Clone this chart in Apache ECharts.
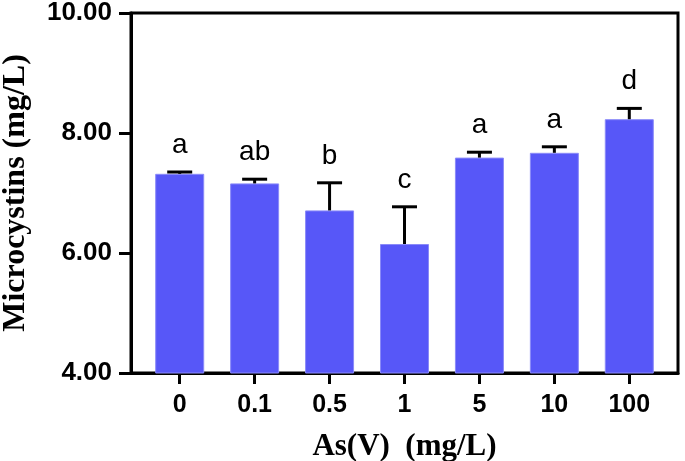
<!DOCTYPE html>
<html>
<head>
<meta charset="utf-8">
<script src="https://cdn.jsdelivr.net/npm/echarts@6/dist/echarts.min.js"></script>
<style>html,body{margin:0;padding:0;background:#fff}#c{width:685px;height:461px}</style>
</head>
<body>
<div id="c"></div>
<script>
const categories = ['0', '0.1', '0.5', '1', '5', '10', '100'];
const means = [7.32, 7.16, 6.71, 6.15, 7.59, 7.67, 8.23];
const sds = [0.03, 0.07, 0.46, 0.62, 0.09, 0.10, 0.18];
const letters = ['a', 'ab', 'b', 'c', 'a', 'a', 'd'];
const yTicks = [4, 6, 8, 10];

const idx = categories.map((c, i) => i);
const barData = means.map((m, i) => [i, m]);
const errData = means.map((m, i) => [i, m, sds[i]]);

const chart = echarts.init(document.getElementById('c'), null, {renderer: 'canvas'});
chart.setOption({
  animation: false,
  backgroundColor: '#fff',
  grid: {left: 131, top: 13, right: 7, bottom: 88, containLabel: false, outerBoundsMode: 'none',
    show: true, borderColor: '#000', borderWidth: 3, backgroundColor: 'transparent'},
  xAxis: {
    type: 'value', min: -0.65, max: 6.65,
    name: 'As(V)  (mg/L)', nameLocation: 'middle', nameGap: 58,
    nameTextStyle: {fontFamily: 'Liberation Serif', fontWeight: 'bold', fontSize: 31, color: '#000'},
    axisLine: {show: true, onZero: false, lineStyle: {color: '#000', width: 3}},
    axisTick: {show: true, length: 11, lineStyle: {color: '#000', width: 3}, customValues: idx},
    axisLabel: {customValues: idx, formatter: v => categories[Math.round(v)], margin: 20,
      fontFamily: 'Liberation Sans', fontWeight: 'bold', fontSize: 25, color: '#000'},
    splitLine: {show: false}
  },
  yAxis: {
    type: 'value', min: yTicks[0], max: yTicks[yTicks.length - 1], interval: 2,
    name: 'Microcystins (mg/L)', nameLocation: 'middle', nameGap: 99,
    nameTextStyle: {fontFamily: 'Liberation Serif', fontWeight: 'bold', fontSize: 32, color: '#000'},
    axisLine: {show: true, onZero: false, lineStyle: {color: '#000', width: 3}},
    axisTick: {show: true, length: 12, lineStyle: {color: '#000', width: 3}},
    axisLabel: {formatter: v => v.toFixed(2), margin: 19,
      fontFamily: 'Liberation Sans', fontWeight: 'bold', fontSize: 26, color: '#000'},
    splitLine: {show: false}
  },
  series: [
    {
      type: 'bar', data: barData, barWidth: 49,
      itemStyle: {color: '#5757f8', borderColor: '#8a8af8', borderWidth: 1}
    },
    {
      type: 'custom', data: errData, z: 5,
      renderItem: function (params, api) {
        const x = api.value(0), m = api.value(1), s = api.value(2);
        const base = api.coord([x, m]);
        const top = api.coord([x, m + s]);
        const half = 12.5;
        return {
          type: 'group',
          children: [
            {type: 'line', shape: {x1: base[0], y1: base[1], x2: top[0], y2: top[1]}, style: {stroke: '#000', lineWidth: 3}},
            {type: 'line', shape: {x1: top[0] - half, y1: top[1], x2: top[0] + half, y2: top[1]}, style: {stroke: '#000', lineWidth: 3}},
            {type: 'text', style: {text: letters[params.dataIndex], x: top[0], y: top[1] - 13,
              align: 'center', verticalAlign: 'bottom', fontSize: 28, fontFamily: 'Liberation Sans', fill: '#000'}}
          ]
        };
      }
    }
  ]
});
</script>
</body>
</html>
